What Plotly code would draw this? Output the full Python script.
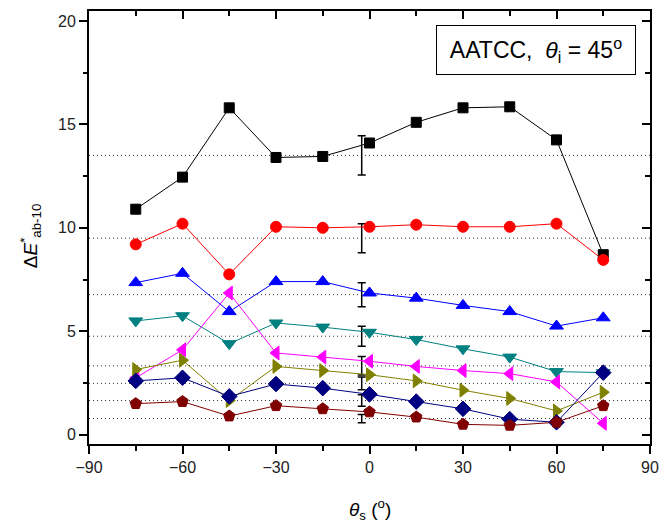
import plotly.graph_objects as go

theta_s = [-75, -60, -45, -30, -15, 0, 15, 30, 45, 60, 75]

series_names = ["S1", "S2", "S3", "S4", "S5", "S6", "S7", "S8"]
series_values = [
    [10.9, 12.45, 15.8, 13.4, 13.45, 14.1, 15.1, 15.8, 15.85, 14.25, 8.7],
    [9.2, 10.2, 7.75, 10.05, 10.0, 10.05, 10.15, 10.05, 10.05, 10.2, 8.45],
    [7.35, 7.8, 5.95, 7.4, 7.4, 6.85, 6.6, 6.25, 5.95, 5.25, 5.65],
    [5.5, 5.75, 4.4, 5.4, 5.2, 4.95, 4.6, 4.15, 3.75, 3.05, 3.0],
    [2.75, 4.1, 6.85, 3.95, 3.75, 3.55, 3.3, 3.1, 2.95, 2.55, 0.55],
    [3.15, 3.6, 1.65, 3.3, 3.1, 2.9, 2.6, 2.15, 1.75, 1.15, 2.05],
    [2.6, 2.75, 1.85, 2.45, 2.25, 1.95, 1.6, 1.25, 0.75, 0.6, 3.0],
    [1.5, 1.6, 0.9, 1.4, 1.25, 1.1, 0.85, 0.5, 0.45, 0.6, 1.4],
]
series_colors = ["#000000", "#FF0000", "#0000FF", "#008080",
                 "#FF00FF", "#808000", "#000080", "#800000"]
series_symbols = ["square", "circle", "triangle-up", "triangle-down",
                  "triangle-left", "triangle-right", "diamond", "pentagon"]
series_sizes = [10, 11, 12, 12, 12, 12, 12, 12]

mean_values = [13.5, 9.5, 6.77, 4.76, 3.33, 2.48, 1.65, 0.78]
mean_errors = [0.95, 0.7, 0.58, 0.48, 0.45, 0.31, 0.28, 0.2]
error_x = -2.5

x_ticks = [-90, -60, -30, 0, 30, 60, 90]
y_ticks = [0, 5, 10, 15, 20]

FONT = "Arial, Liberation Sans, sans-serif"

fig = go.Figure()

# dotted mean lines
for m in mean_values:
    fig.add_trace(go.Scatter(
        x=[-90, 90], y=[m, m], mode="lines",
        line=dict(color="#333333", width=1, dash="1px,3px"),
        hoverinfo="skip", showlegend=False))

# error bars
fig.add_trace(go.Scatter(
    x=[error_x] * len(mean_values), y=mean_values, mode="markers",
    marker=dict(size=1, color="rgba(0,0,0,0)"),
    error_y=dict(type="data", array=mean_errors, visible=True,
                 color="#000000", thickness=1.5, width=4),
    showlegend=False))

for name, vals, col, sym, sz in zip(series_names, series_values,
                                    series_colors, series_symbols, series_sizes):
    fig.add_trace(go.Scatter(
        x=theta_s, y=vals, mode="lines+markers", name=name,
        line=dict(color=col, width=1),
        marker=dict(symbol=sym, size=sz, color=col,
                    line=dict(color=col, width=1)),
        showlegend=False))

# overlay axes for inward mirrored ticks
fig.add_trace(go.Scatter(x=[0], y=[0], xaxis="x2", yaxis="y2",
                         mode="markers", marker=dict(size=1, opacity=0),
                         hoverinfo="skip", showlegend=False))

axis_common = dict(showgrid=False, zeroline=False, showline=True,
                   linecolor="#000000", linewidth=2,
                   tickcolor="#000000", tickwidth=2)

fig.update_layout(
    width=670, height=525,
    margin=dict(l=89, r=11, t=11, b=81),
    paper_bgcolor="white", plot_bgcolor="white",
    font=dict(family=FONT, size=16, color="#222222"),
    xaxis=dict(range=[-90, 90], tickvals=x_ticks, ticks="outside",
               ticklen=8, tickfont=dict(size=16),
               minor=dict(ticks="outside", ticklen=5, dtick=15,
                          tickcolor="#000000", tickwidth=2, showgrid=False),
               **axis_common),
    yaxis=dict(range=[-0.45, 20.48], tickvals=y_ticks, ticks="outside",
               ticklen=8, tickfont=dict(size=16),
               minor=dict(ticks="outside", ticklen=4, dtick=2.5, tick0=0,
                          tickcolor="#000000", tickwidth=2, showgrid=False),
               **axis_common),
    xaxis2=dict(range=[-90, 90], overlaying="x", side="top", anchor="y2",
                tickvals=x_ticks, ticks="inside", ticklen=8,
                showticklabels=False,
                minor=dict(ticks="inside", ticklen=5, dtick=15,
                           tickcolor="#000000", tickwidth=2, showgrid=False),
                **axis_common),
    yaxis2=dict(range=[-0.45, 20.48], overlaying="y", side="right", anchor="x2",
                tickvals=y_ticks, ticks="inside", ticklen=8,
                showticklabels=False,
                minor=dict(ticks="inside", ticklen=5, dtick=2.5, tick0=0,
                           tickcolor="#000000", tickwidth=2, showgrid=False),
                **axis_common),
    annotations=[
        dict(text="<i>θ</i><sub>s</sub> (<sup>o</sup>)", xref="paper",
             yref="paper", x=0.5, y=-0.115, xanchor="center", yanchor="top",
             showarrow=False, font=dict(size=19, color="#000000")),
        dict(text="Δ<i>E</i><sup>*</sup><sub>ab-10</sub>", xref="paper",
             yref="paper", x=-0.105, y=0.48, xanchor="center", yanchor="middle",
             textangle=-90, showarrow=False,
             font=dict(size=19, color="#000000")),
        dict(text="AATCC,  <i>θ</i><sub>i</sub> = 45<sup>o</sup>", xref="paper",
             yref="paper", x=0.619, y=0.968, xanchor="left", yanchor="top",
             showarrow=False, font=dict(size=23, color="#000000"),
             bordercolor="#000000", borderwidth=1, borderpad=4,
             bgcolor="white", width=190, height=40),
    ],
)

fig.write_html("out.html")
